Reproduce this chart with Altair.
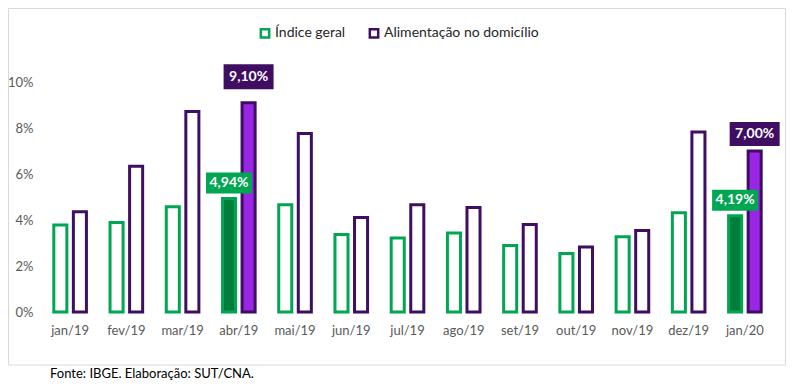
import altair as alt
import pandas as pd

meses = ["jan/19", "fev/19", "mar/19", "abr/19", "mai/19", "jun/19", "jul/19",
         "ago/19", "set/19", "out/19", "nov/19", "dez/19", "jan/20"]
indice_geral = [3.78, 3.89, 4.58, 4.94, 4.66, 3.37, 3.22, 3.43, 2.89, 2.54, 3.27, 4.31, 4.19]
alimentacao = [4.36, 6.34, 8.72, 9.10, 7.76, 4.11, 4.66, 4.54, 3.80, 2.83, 3.54, 7.83, 7.00]
series = ["Índice geral", "Alimentação no domicílio"]
destaques = ["abr/19", "jan/20"]
y_ticks = [0, 2, 4, 6, 8, 10]
fonte = "Fonte: IBGE. Elaboração: SUT/CNA."

rows = []
for i, m in enumerate(meses):
    rows.append({"mes": m, "serie": series[0], "valor": indice_geral[i], "destaque": m in destaques})
    rows.append({"mes": m, "serie": series[1], "valor": alimentacao[i], "destaque": m in destaques})
df = pd.DataFrame(rows)

GREEN = "#00A651"
PURPLE = "#3F0E63"
GREEN_FILL = "#017E3C"
PURPLE_FILL = "#9925E5"
GRAY = "#595959"
FONT = "Lato"

x_enc = alt.X("mes:N", sort=meses,
              scale=alt.Scale(paddingInner=0.42, paddingOuter=0.21),
              axis=alt.Axis(title=None, labelAngle=0, ticks=False, domain=False,
                            labelColor=GRAY, labelFontSize=13, labelFont=FONT,
                            labelPadding=12))
xoff = alt.XOffset("serie:N", sort=series,
                   scale=alt.Scale(paddingInner=0.333, paddingOuter=0))
y_scale = alt.Scale(domain=[0, 12], nice=False)
y_axis = alt.Axis(values=y_ticks, labelExpr="datum.value + '%'", title=None,
                  grid=False, ticks=False, domain=False, labelColor=GRAY,
                  labelFontSize=13, labelFont=FONT, labelPadding=9)

base = alt.Chart(df).transform_calculate(
    cor="datum.destaque ? (datum.serie == 'Índice geral' ? '%s' : '%s') : '#FFFFFF'" % (GREEN_FILL, PURPLE_FILL),
    rotulo="replace(format(datum.valor, '.2f'), '.', ',') + '%'",
)

bars = base.mark_bar(strokeWidth=3).encode(
    x=x_enc,
    xOffset=xoff,
    y=alt.Y("valor:Q", scale=y_scale, axis=y_axis),
    stroke=alt.Stroke("serie:N", sort=series,
                      scale=alt.Scale(domain=series, range=[GREEN, PURPLE]),
                      legend=alt.Legend(title=None, orient="none", direction="horizontal",
                                        legendX=216, legendY=-10,
                                        symbolType="square", symbolSize=70,
                                        symbolStrokeWidth=2.5, symbolFillColor="white",
                                        labelFontSize=14, labelFont=FONT,
                                        labelColor="#262626", labelOffset=3,
                                        columnPadding=18, padding=0)),
    fill=alt.Fill("cor:N", scale=None),
)


def caixa(mes, serie, cor, largura, baixo, alto):
    sel = base.transform_filter(
        "datum.mes == '%s' && datum.serie == '%s'" % (mes, serie))
    box = sel.mark_bar(width=largura, color=cor, yOffset=-baixo, y2Offset=-alto).encode(
        x=x_enc, xOffset=xoff,
        y=alt.Y("valor:Q", scale=y_scale, axis=y_axis),
        y2="valor:Q",
    )
    txt = sel.mark_text(color="white", fontWeight="bold", fontSize=14, font=FONT,
                        baseline="middle", dy=-(baixo + alto) / 2).encode(
        x=x_enc, xOffset=xoff,
        y=alt.Y("valor:Q", scale=y_scale, axis=y_axis),
        text="rotulo:N",
    )
    return [box, txt]


labels = []
labels += caixa("abr/19", series[0], GREEN, 46, 5, 26)
labels += caixa("abr/19", series[1], PURPLE, 50, 13.5, 38.5)
labels += caixa("jan/20", series[0], GREEN, 46, 5, 26)
labels += caixa("jan/20", series[1], PURPLE, 50, 5, 29)

footer = alt.Chart(pd.DataFrame({"t": [fonte]})).mark_text(
    align="left", baseline="middle", fontSize=13, font=FONT, color="#000000"
).encode(text="t:N", x=alt.value(8), y=alt.value(338))

border = alt.Chart(pd.DataFrame({"a": [0]})).mark_rect(
    filled=False, stroke="#D9D9D9", strokeWidth=1
).encode(x=alt.value(-33.5), x2=alt.value(743.5), y=alt.value(-27.5), y2=alt.value(329))

chart = alt.layer(border, bars, *labels, footer).properties(
    width=731, height=276,
    autosize=alt.AutoSizeParams(type="none"),
    padding={"left": 34, "top": 28, "right": 13, "bottom": 70},
    background="white",
).configure_view(stroke=None)

chart.save("out.html", embed_options={"renderer": "svg", "actions": False})
